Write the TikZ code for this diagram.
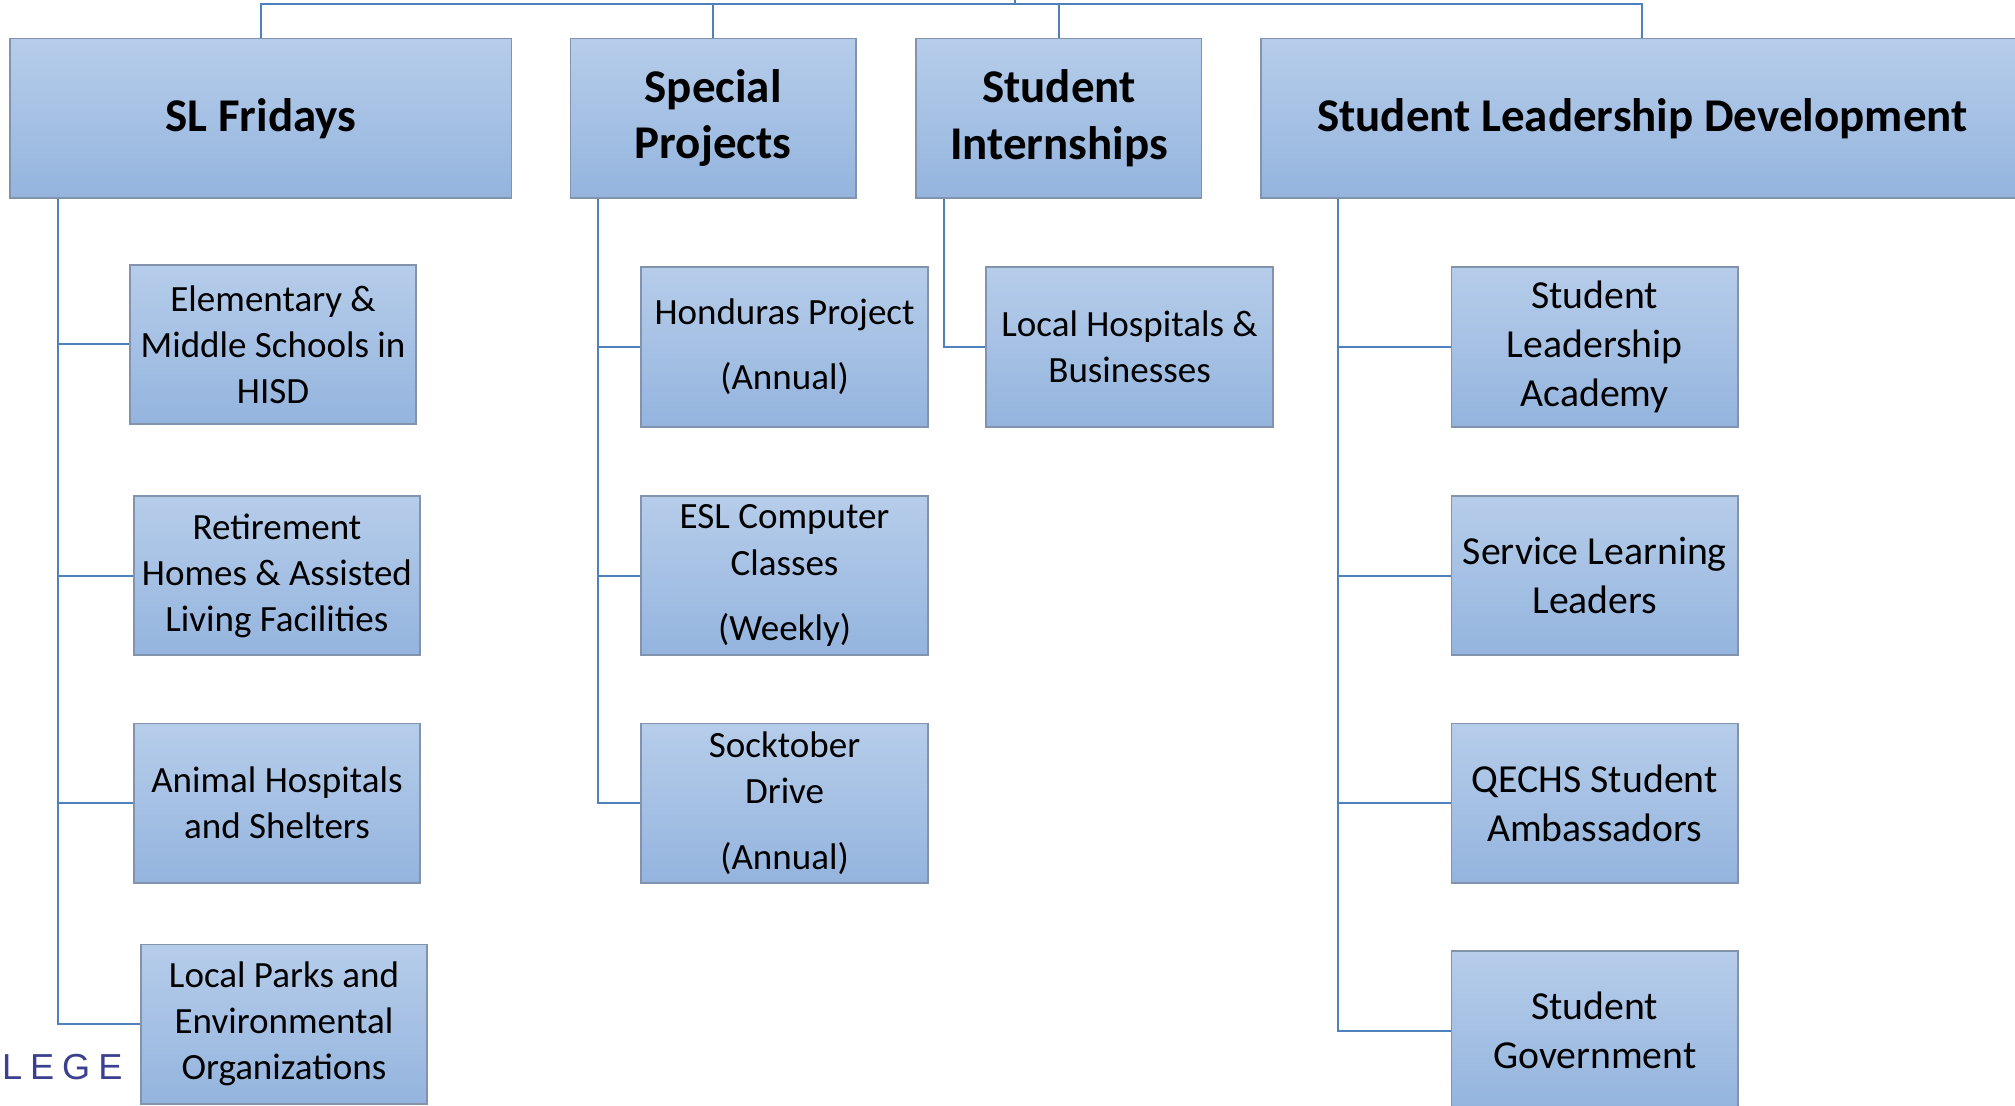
\documentclass[tikz,border=0pt]{standalone}
\usepackage{fontspec}
\setmainfont{Carlito}
\newfontfamily\logofont[LetterSpace=22]{Liberation Sans}
\usepackage{xcolor}
\usetikzlibrary{positioning}

\definecolor{boxtop}{HTML}{B6CDEA}
\definecolor{boxbot}{HTML}{94B4DE}
\definecolor{boxline}{HTML}{8193AD}
\definecolor{linkblue}{HTML}{4F81BD}
\definecolor{logoblue}{HTML}{3A3F8F}

\begin{document}
\begin{tikzpicture}[x=0.1mm, y=-0.1mm,
            headbox/.style={draw=boxline, line width=0.4pt, top color=boxtop, bottom color=boxbot,
                minimum height=12.4mm, inner sep=0pt, align=center,
                font=\fontsize{10.4}{12.5}\selectfont\bfseries},
            itembox/.style={draw=boxline, line width=0.4pt, top color=boxtop, bottom color=boxbot,
                minimum width=22.3mm, minimum height=12.4mm, inner sep=0pt, align=center,
                font=\fontsize{8.2}{10.2}\selectfont},
            bigitem/.style={itembox, font=\fontsize{8.8}{10.9}\selectfont},
            link/.style={draw=linkblue, line width=0.45pt}]
    \clip (0,0) rectangle (1568,860);

    % top row
    \node[headbox, minimum width=39mm] (slf) at (203,92) {SL Fridays};
    \node[headbox, minimum width=22.2mm] (sp) at (555,92) {Special\\Projects};
    \node[headbox, minimum width=22.2mm] (si) at (824,92) {Student\\Internships};
    \node[headbox, minimum width=59.4mm] (sld) at (1278,92) {Student Leadership Development};

    % SL Fridays
    \node[itembox] (elem) at (212.5,268) {Elementary \&\\Middle Schools in\\HISD};
    \node[itembox] (retire) at (215.5,448) {Retirement\\Homes \& Assisted\\Living Facilities};
    \node[itembox] (animal) at (215.5,625) {Animal Hospitals\\and Shelters};
    \node[itembox] (parks) at (221,797) {Local Parks and\\Environmental\\Organizations};

    % Special Projects
    \node[itembox] (hond) at (610.5,270) {Honduras Project\\[4.3pt](Annual)};
    \node[itembox] (esl) at (610.5,448) {ESL Computer\\Classes\\[4.3pt](Weekly)};
    \node[itembox] (sock) at (610.5,625) {Socktober\\Drive\\[4.3pt](Annual)};

    % Student Internships
    \node[itembox] (hosp) at (879,270) {Local Hospitals \&\\Businesses};

    % Student Leadership Development
    \node[bigitem] (sla) at (1241,270) {Student\\Leadership\\Academy};
    \node[bigitem] (sll) at (1241,448) {Service Learning\\Leaders};
    \node[bigitem] (qechs) at (1241,625) {QECHS Student\\Ambassadors};
    \node[bigitem] (sg) at (1241,802) {Student\\Government};

    \node[anchor=west, inner sep=0pt, text=logoblue, font=\logofont\fontsize{8}{9}\selectfont] (logo) at (1,830) {LEGE};

    % connectors
    \coordinate (up) at (790,0);
    \coordinate (bus) at (790,3);
    \draw[link] (slf.north) |- (bus) -| (sld.north);
    \draw[link] (sp.north) -- (sp.north |- bus);
    \draw[link] (si.north) -- (si.north |- bus);
    \draw[link] (up) -- (bus);

    \coordinate (slfbus) at ([xshift=3.8mm]slf.south west);
    \coordinate (spbus) at ([xshift=2.2mm]sp.south west);
    \coordinate (sibus) at ([xshift=2.2mm]si.south west);
    \coordinate (sldbus) at ([xshift=6.1mm]sld.south west);

    \draw[link] (slfbus) |- (parks.west);
    \draw[link] (elem.west) -- (elem.west -| slfbus);
    \draw[link] (retire.west) -- (retire.west -| slfbus);
    \draw[link] (animal.west) -- (animal.west -| slfbus);

    \draw[link] (spbus) |- (sock.west);
    \draw[link] (hond.west) -- (hond.west -| spbus);
    \draw[link] (esl.west) -- (esl.west -| spbus);

    \draw[link] (sibus) |- (hosp.west);

    \draw[link] (sldbus) |- (sg.west);
    \draw[link] (sla.west) -- (sla.west -| sldbus);
    \draw[link] (sll.west) -- (sll.west -| sldbus);
    \draw[link] (qechs.west) -- (qechs.west -| sldbus);
\end{tikzpicture}
\end{document}
